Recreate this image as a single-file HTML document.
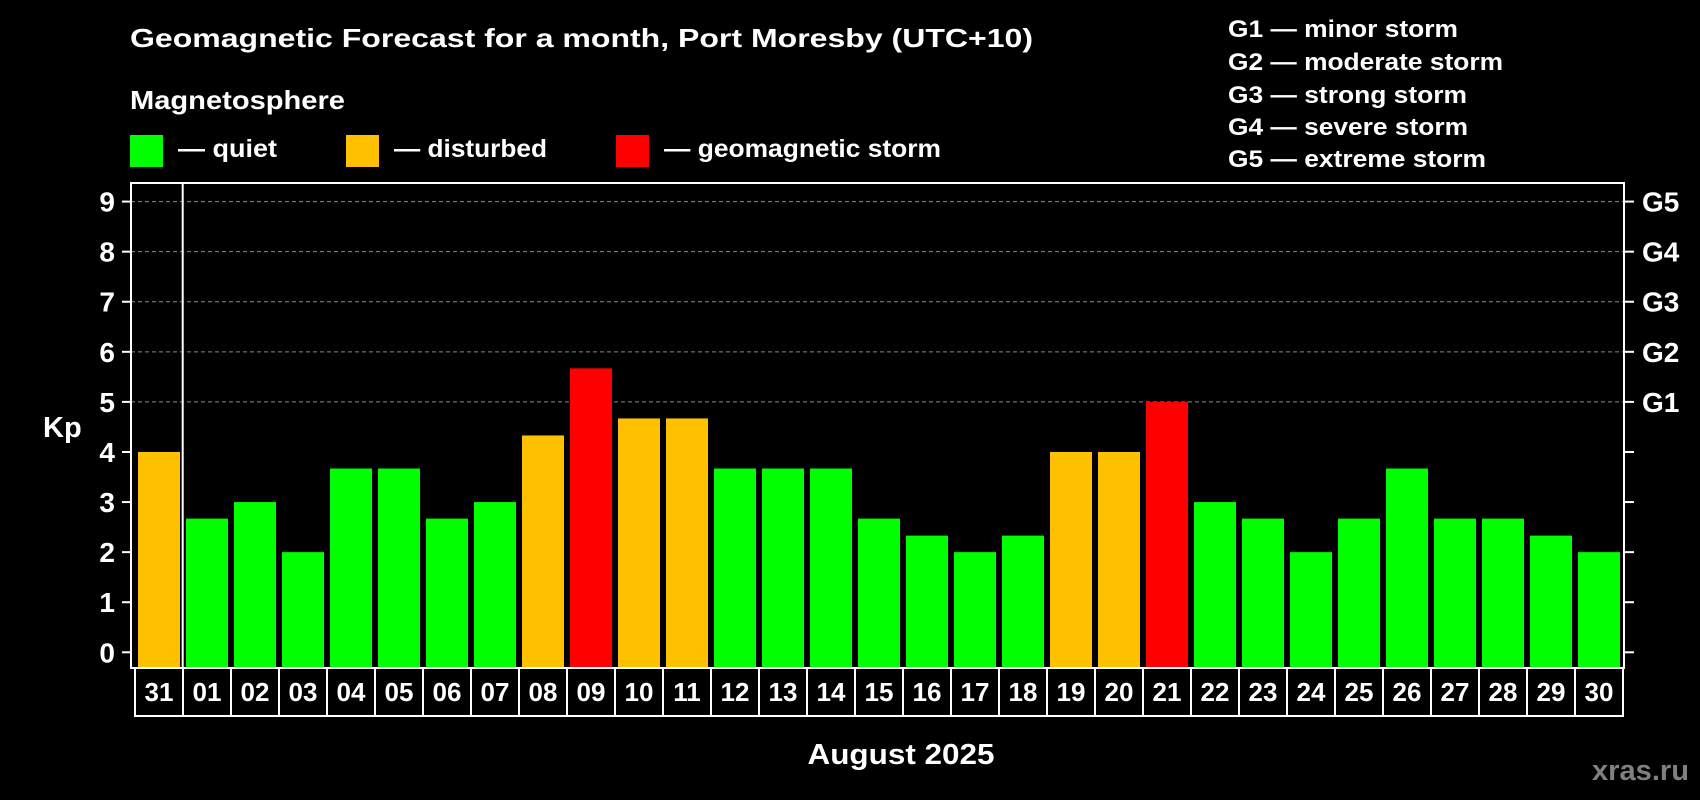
<!DOCTYPE html>
<html><head><meta charset="utf-8"><style>
html,body{margin:0;padding:0;background:#000;}
svg{display:block;font-family:"Liberation Sans",Arial,sans-serif;font-weight:bold;}
</style></head><body>
<svg id="chart" width="1700" height="800" viewBox="0 0 1700 800" xmlns="http://www.w3.org/2000/svg">
<rect width="1700" height="800" fill="#000"/>
<text x="130" y="47" font-size="26" fill="#fff" textLength="903" lengthAdjust="spacingAndGlyphs">Geomagnetic Forecast for a month, Port Moresby (UTC+10)</text>
<text x="130" y="109" font-size="26" fill="#fff" textLength="215" lengthAdjust="spacingAndGlyphs">Magnetosphere</text>
<g>
<rect x="130" y="135" width="33" height="32" fill="#00ff00"/>
<text x="178" y="157" font-size="25" fill="#fff" textLength="99" lengthAdjust="spacingAndGlyphs">— quiet</text>
<rect x="346" y="135" width="33" height="32" fill="#ffc000"/>
<text x="394" y="157" font-size="25" fill="#fff" textLength="153" lengthAdjust="spacingAndGlyphs">— disturbed</text>
<rect x="616" y="135" width="33" height="32" fill="#ff0000"/>
<text x="664" y="157" font-size="25" fill="#fff" textLength="277" lengthAdjust="spacingAndGlyphs">— geomagnetic storm</text>
</g>
<g font-size="24" fill="#fff">
<text x="1228" y="37" textLength="230" lengthAdjust="spacingAndGlyphs">G1 — minor storm</text>
<text x="1228" y="70" textLength="275" lengthAdjust="spacingAndGlyphs">G2 — moderate storm</text>
<text x="1228" y="103" textLength="239" lengthAdjust="spacingAndGlyphs">G3 — strong storm</text>
<text x="1228" y="135" textLength="240" lengthAdjust="spacingAndGlyphs">G4 — severe storm</text>
<text x="1228" y="167" textLength="258" lengthAdjust="spacingAndGlyphs">G5 — extreme storm</text>
</g>
<text x="43" y="437" font-size="29" fill="#fff">Kp</text>
<text x="901" y="764" font-size="29" fill="#fff" text-anchor="middle" textLength="187" lengthAdjust="spacingAndGlyphs">August 2025</text>
<text x="1592" y="780" font-size="29" fill="#808080" textLength="97" lengthAdjust="spacingAndGlyphs">xras.ru</text>
<g id="plot"></g>
</svg>
<script>
const days = ["31","01","02","03","04","05","06","07","08","09","10","11","12","13","14","15","16","17","18","19","20","21","22","23","24","25","26","27","28","29","30"];
const kpValues = [4,2.67,3,2,3.67,3.67,2.67,3,4.33,5.67,4.67,4.67,3.67,3.67,3.67,2.67,2.33,2,2.33,4,4,5,3,2.67,2,2.67,3.67,2.67,2.67,2.33,2];
const yTicks = [0,1,2,3,4,5,6,7,8,9];
const gridLevels = [5,6,7,8,9];
const gLabels = ["G1","G2","G3","G4","G5"];

const NS = "http://www.w3.org/2000/svg";
const plot = document.getElementById("plot");
const L = 131, R = 1624, T = 183, B = 668;
const y0 = 652.3, yUnit = 50.08;
function y(v){ return y0 - v * yUnit; }
const pitch = 48, barW = 42, barX0 = 138, boxX0 = 135;
function x(i){ return barX0 + i * pitch; }
function colorFor(v){ return v >= 5 ? "#ff0000" : (v >= 4 ? "#ffc000" : "#00ff00"); }
function mk(tag, attrs){ const e = document.createElementNS(NS, tag); for (const k in attrs) e.setAttribute(k, attrs[k]); plot.appendChild(e); return e; }

gridLevels.forEach(function(v){
  const g = mk("line", {x1: L, x2: R, y1: y(v), y2: y(v), stroke: "#8a8a8a", "stroke-width": 1, "stroke-dasharray": "4 3"});
  
  
});
kpValues.forEach(function(v, i){
  const b = mk("rect", {x: x(i), y: y(v), width: barW, height: B - y(v), fill: colorFor(v)});
  
  
});
const border = mk("rect", {x: L, y: T, width: R - L, height: B - T, fill: "none", stroke: "#fff", "stroke-width": 2});


const sep = mk("line", {x1: 182.7, x2: 182.7, y1: T, y2: B, stroke: "#fff", "stroke-width": 2});



yTicks.forEach(function(v){
  const t1 = mk("line", {x1: 122, x2: L, y1: y(v), y2: y(v), stroke: "#fff", "stroke-width": 2});
  
  
  const t2 = mk("line", {x1: R, x2: 1634, y1: y(v), y2: y(v), stroke: "#fff", "stroke-width": 2});
  
  
  const lb = mk("text", {x: 115, y: y(v) + 10, "font-size": 28, fill: "#fff", "text-anchor": "end"});
  lb.textContent = String(v);
  
  
});
gLabels.forEach(function(g, k){
  const lb = mk("text", {x: 1642, y: y(5 + k) + 10, "font-size": 28, fill: "#fff"});
  lb.textContent = g;
  
  
});
days.forEach(function(d, i){
  const bx = mk("rect", {x: boxX0 + i * pitch, y: B, width: pitch, height: 48, fill: "#000", stroke: "#fff", "stroke-width": 2});
  
  
  const t = mk("text", {x: boxX0 + i * pitch + pitch / 2, y: 701, "font-size": 26, fill: "#fff", "text-anchor": "middle"});
  t.textContent = d;
  
  
});
</script>
</body></html>
